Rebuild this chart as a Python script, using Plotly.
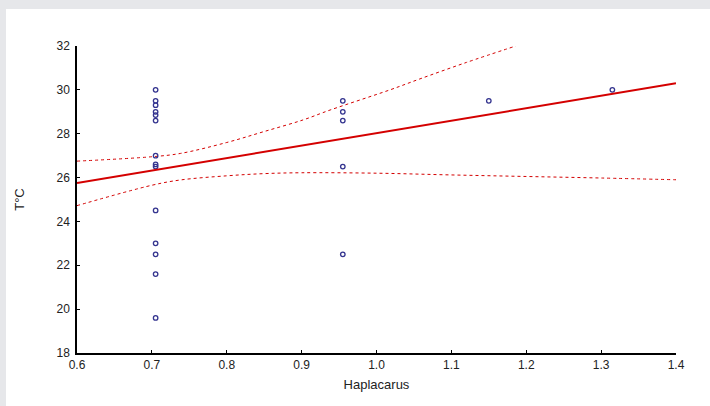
import plotly.graph_objects as go

# Scatter data
x_pts = [0.705] * 14 + [0.955] * 5 + [1.15, 1.315]
y_pts = [30.0, 29.5, 29.3, 29.0, 28.85, 28.6, 27.0, 26.6, 26.5, 24.5, 23.0, 22.5, 21.6, 19.6,
         29.5, 29.0, 28.6, 26.5, 22.5,
         29.5, 30.0]

# Fitted regression line
fit_x = [0.6, 1.4]
fit_y = [25.75, 30.3]

# Confidence bands
upper_x = [0.6, 0.7, 0.738, 0.8, 0.85, 0.902, 0.938, 1.018, 1.058, 1.12, 1.186]
upper_y = [26.75, 26.95, 27.1, 27.6, 28.1, 28.63, 29.08, 30.0, 30.5, 31.25, 32.0]
lower_x = [0.6, 0.7, 0.738, 0.8, 0.85, 0.9, 1.0, 1.1, 1.2, 1.3, 1.4]
lower_y = [24.72, 25.65, 25.89, 26.08, 26.18, 26.22, 26.2, 26.12, 26.05, 25.98, 25.9]

x_ticks = [0.6, 0.7, 0.8, 0.9, 1.0, 1.1, 1.2, 1.3, 1.4]
y_ticks = [18, 20, 22, 24, 26, 28, 30, 32]

red = "#d40000"
fig = go.Figure()
fig.add_trace(go.Scatter(x=upper_x, y=upper_y, mode="lines", line=dict(color=red, width=1, dash="3px,3px", shape="spline"), hoverinfo="skip"))
fig.add_trace(go.Scatter(x=lower_x, y=lower_y, mode="lines", line=dict(color=red, width=1, dash="3px,3px", shape="spline"), hoverinfo="skip"))
fig.add_trace(go.Scatter(x=x_pts, y=y_pts, mode="markers",
                         marker=dict(symbol="circle-open", size=4.5, color="#34348f", line=dict(width=1.3, color="#34348f"))))
fig.add_trace(go.Scatter(x=fit_x, y=fit_y, mode="lines", line=dict(color=red, width=2)))

L, R, T, B = 77, 34, 46, 53
W, H = 710, 406
pw, ph = W - L - R, H - T - B
fig.add_shape(type="rect", xref="paper", yref="paper",
              x0=(6 - L) / pw, x1=(W + 5 - L) / pw,
              y0=-(B + 5) / ph, y1=(H - B - 9) / ph,
              fillcolor="white", line=dict(width=0), layer="below")

font = dict(family="Liberation Sans, Arial, sans-serif", size=12, color="#222222")
fig.update_layout(
    width=W, height=H,
    margin=dict(l=L, r=R, t=T, b=B),
    paper_bgcolor="#e6e7ea", plot_bgcolor="white",
    showlegend=False, font=font,
    xaxis=dict(range=[0.6, 1.4], tickvals=x_ticks, ticktext=[f"{v:.1f}" for v in x_ticks],
               showgrid=False, zeroline=False, showline=True, linecolor="black", linewidth=1.5,
               ticks="inside", ticklen=3, tickcolor="black",
               title=dict(text="Haplacarus", font=dict(size=13, color="#222222"), standoff=9)),
    yaxis=dict(range=[18, 32], tickvals=y_ticks, ticklabelstandoff=3,
               showgrid=False, zeroline=False, showline=True, linecolor="black", linewidth=1.5,
               ticks="inside", ticklen=3, tickcolor="black",
               title=dict(text="T°C", font=dict(size=13, color="#222222"), standoff=29)),
)
fig.write_html("out.html", config={"displayModeBar": False},
               post_script="document.body.style.margin='0';document.body.style.background='#e6e7ea';")
